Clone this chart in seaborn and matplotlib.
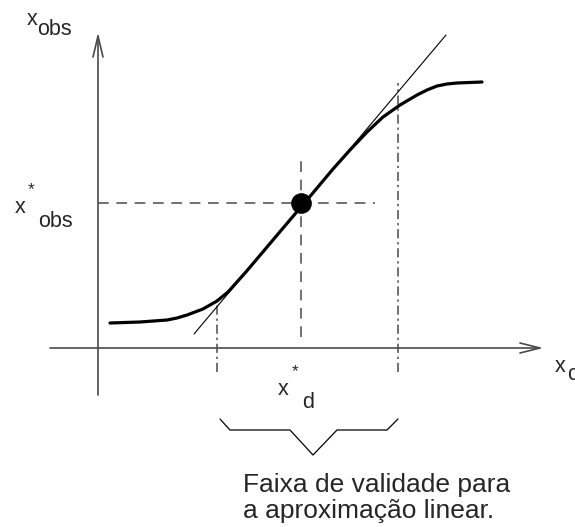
import matplotlib
matplotlib.use("Agg")
import matplotlib.pyplot as plt
import seaborn as sns
import pandas as pd

# curva sigmoide (coordenadas, origem no cruzamento dos eixos)
curve_x = [12, 42, 69, 79, 89, 105, 119, 130, 147, 164, 180, 197, 209,
           235, 252, 269, 285, 302, 319, 329, 339, 349, 359, 384]
curve_y = [25, 26, 28, 30, 33, 39, 47, 56, 75, 95, 114, 134, 148,
           179, 198, 216, 231, 243, 253, 258, 262, 264, 265, 266]

# ponto de operacao e reta tangente
op_x, op_y = 203, 145
tangent_x = [96, 348]
tangent_y = [14, 313]

# limites da faixa de validade
band_x = [119, 300]
band_top = [51, 265]
band_bottom = -24

# chave (bracket) abaixo do eixo
brace_x = [122, 132, 192, 215, 239, 289, 300]
brace_y = [-71, -82, -82, -107, -82, -82, -71]

sns.set_theme(style="white")
plt.rcParams['font.family'] = ['Liberation Sans', 'DejaVu Sans']

fig = plt.figure(figsize=(5.75, 5.27), dpi=100)
ax = fig.add_axes([0, 0, 1, 1])
ax.set_xlim(-98, 477)
ax.set_ylim(-179, 348)
ax.axis('off')

axis_col = '#4a4a4a'
# eixos com setas abertas
ax.plot([-48, 442], [0, 0], color=axis_col, lw=1.2)
ax.plot([0, 0], [-47, 312], color=axis_col, lw=1.2)
ax.plot([422, 442, 422], [5, 0, -5], color=axis_col, lw=1.2)
ax.plot([-5, 0, 5], [291, 312, 291], color=axis_col, lw=1.2)

# linhas tracejadas ate o ponto
ax.plot([0, 277], [op_y, op_y], color=axis_col, lw=1.1, linestyle=(0, (7, 5)))
ax.plot([op_x, op_x], [11, 193], color=axis_col, lw=1.1, linestyle=(0, (7, 5)))

# faixa de validade (traco-ponto)
for bx, bt in zip(band_x, band_top):
    ax.plot([bx, bx], [band_bottom, bt], color=axis_col, lw=1.1,
            linestyle=(0, (6, 2.5, 1.5, 2.5)))

# tangente
ax.plot(tangent_x, tangent_y, color='black', lw=0.8)

df = pd.DataFrame({'x': curve_x, 'y': curve_y})
sns.lineplot(data=df, x='x', y='y', sort=False, color='black', lw=2.3, ax=ax)
sns.scatterplot(x=[op_x], y=[op_y], s=190, color='black', edgecolor='black',
                zorder=5, ax=ax)

ax.plot(brace_x, brace_y, color='black', lw=0.9)

# rotulos
fs = 15.5
ax.text(-71, 323, 'x', fontsize=fs, va='baseline')
ax.text(-61, 313, 'obs', fontsize=fs, va='baseline')
ax.text(-83, 135, 'x', fontsize=fs, va='baseline')
ax.text(-70, 154, '*', fontsize=fs * 0.8, va='baseline')
ax.text(-60, 121, 'obs', fontsize=fs, va='baseline')
ax.text(457, -24, 'x', fontsize=fs, va='baseline')
ax.text(469, -32, 'c', fontsize=fs, va='baseline')
ax.text(180, -47, 'x', fontsize=fs, va='baseline')
ax.text(194, -28, '*', fontsize=fs * 0.8, va='baseline')
ax.text(204, -60, 'd', fontsize=fs, va='baseline')

ax.text(145, -144, 'Faixa de validade para', fontsize=19, va='baseline')
ax.text(145, -170, 'a aproximação linear.', fontsize=19, va='baseline')

ax.set_xlabel('')
ax.set_ylabel('')
fig.savefig('out.png', dpi=100)
